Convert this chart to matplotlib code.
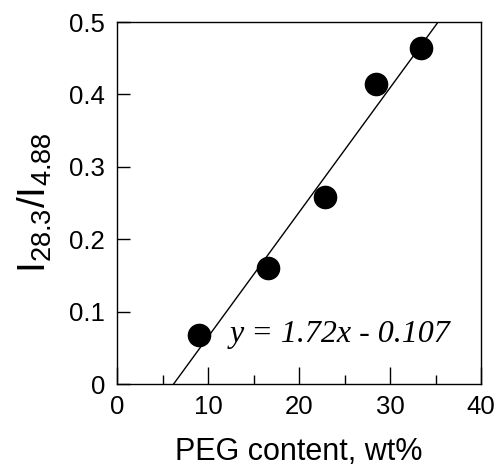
import matplotlib
matplotlib.use("Agg")
import matplotlib.pyplot as plt
import numpy as np

peg_wt = [9.0, 16.6, 22.9, 28.5, 33.4]
ratio = [0.068, 0.160, 0.258, 0.415, 0.464]
slope = 1.72
intercept = -0.107
x_ticks = [0, 10, 20, 30, 40]
y_ticks = [0, 0.1, 0.2, 0.3, 0.4, 0.5]
y_ticklabels = ["0", "0.1", "0.2", "0.3", "0.4", "0.5"]

plt.rcParams['font.family'] = ['Liberation Sans', 'DejaVu Sans']
plt.rcParams['mathtext.fontset'] = 'custom'
plt.rcParams['mathtext.rm'] = 'Liberation Sans'

fig = plt.figure(figsize=(4.97, 4.70), dpi=100)
ax = fig.add_axes([117/497, 1-384/470, (481-117)/497, (384-22)/470])

xl = np.array([0, 40])
ax.plot(xl, slope*xl/100 + intercept, color='black', lw=1.0)
ax.plot(peg_wt, ratio, 'o', color='black', ms=16, zorder=3)

ax.set_xlim(0, 40)
ax.set_ylim(0, 0.5)
ax.set_xticks(x_ticks)
ax.set_xticks([5, 15, 25, 35], minor=True)
ax.set_yticks(y_ticks)
ax.set_yticklabels(y_ticklabels)
ax.tick_params(axis='x', which='major', direction='in', length=12, width=1, labelsize=18.5, pad=8)
ax.tick_params(axis='x', which='minor', direction='in', length=6.5, width=1)
ax.tick_params(axis='y', which='major', direction='in', length=9.5, width=1, labelsize=18.5, pad=8.5)
for s in ax.spines.values():
    s.set_linewidth(1.0)

ax.set_xlabel('PEG content, wt%', fontsize=22, labelpad=13)
ax.set_ylabel(r'$\mathregular{I_{28.3}/I_{4.88}}$', fontsize=28, labelpad=11)

ax.text(12.4, 0.068, 'y = 1.72x - 0.107', fontsize=23, family='Liberation Serif',
        style='italic', va='center', ha='left')

fig.savefig('out.png', dpi=100)
